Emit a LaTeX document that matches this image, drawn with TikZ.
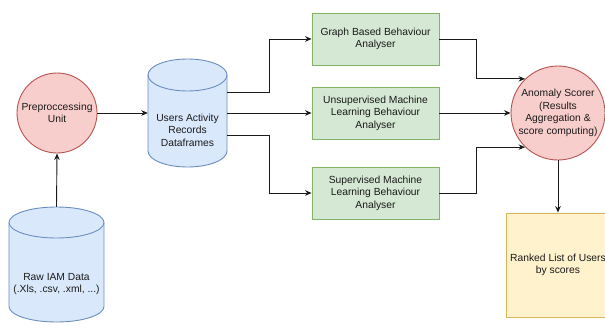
\documentclass[tikz,border=0pt]{standalone}
\usepackage{fontspec}
\setmainfont{Liberation Sans}
\usetikzlibrary{arrows.meta}

\definecolor{redfill}{HTML}{F8CECC}
\definecolor{redline}{HTML}{B85450}
\definecolor{bluefill}{HTML}{DAE8FC}
\definecolor{blueline}{HTML}{6C8EBF}
\definecolor{greenfill}{HTML}{D5E8D4}
\definecolor{greenline}{HTML}{82B366}
\definecolor{yellowfill}{HTML}{FFF2CC}
\definecolor{yellowline}{HTML}{D6B656}
\definecolor{ink}{HTML}{1A1A1A}

% cylinder: centre x, top y, bottom y, x radius, y radius
\newcommand\drawcylinder[5]{%
  \draw[cylbody] ({#1-#4},{#2-#5}) -- ({#1-#4},{#3+#5})
    arc[start angle=180,end angle=360,x radius=#4,y radius=#5]
    -- ({#1+#4},{#2-#5})
    arc[start angle=0,end angle=180,x radius=#4,y radius=#5] -- cycle;
  \draw[cylbody,fill=none] ({#1-#4},{#2-#5})
    arc[start angle=180,end angle=360,x radius=#4,y radius=#5];}

\tikzset{
  every node/.style={font=\fontsize{10.3}{12.6}\selectfont, text=ink, align=center, inner sep=0pt},
  cylbody/.style={draw=blueline, fill=bluefill, line width=0.9pt},
  anchorbox/.style={rectangle, draw=none},
  procircle/.style={circle, draw=redline, fill=redfill, line width=0.9pt},
  analyser/.style={rectangle, draw=greenline, fill=greenfill, line width=0.9pt,
    minimum width=127pt, minimum height=52pt},
  resultbox/.style={rectangle, draw=yellowline, fill=yellowfill, line width=0.9pt,
    minimum width=104pt, minimum height=104pt},
  flow/.style={draw=ink, line width=0.9pt, -{Stealth[length=6.5pt,width=5.5pt]}},
}

\begin{document}
\begin{tikzpicture}[x=1pt,y=1pt]
  \useasboundingbox (0,0) rectangle (605,-324);
  \clip (0,0) rectangle (605,-324);

  % data stores
  \drawcylinder{56.5}{-207}{-322}{47.5}{15.5}
  \drawcylinder{187.5}{-59}{-167}{39.5}{16}
  \node[anchorbox, minimum width=95pt, minimum height=115pt] (raw) at (56.5,-264.5) {};
  \node (rawlbl) at (56.5,-284) {Raw IAM Data\\(.Xls, .csv, .xml, ...)};
  \node[anchorbox, minimum width=79pt, minimum height=108pt] (users) at (187.5,-113) {};
  \node (userslbl) at (187.5,-130) {Users Activity\\Records\\Dataframes};

  % processing units
  \node[procircle, minimum size=80pt] (pre) at (57,-113) {Preproccessing\\Unit};
  \node[procircle, minimum size=94pt] (anom) at (558,-113)
    {Anomaly Scorer\\(Results\\Aggregation \&\\score computing)};

  % analysers
  \node[analyser] (graph) at (375.5,-39) {Graph Based Behaviour\\Analyser};
  \node[analyser] (unsup) at (375.5,-113) {Unsupervised Machine\\Learning Behaviour\\Analyser};
  \node[analyser] (sup) at (375.5,-193) {Supervised Machine\\Learning Behaviour\\Analyser};

  % output
  \node[resultbox] (ranked) at (558,-265) {Ranked List of Users\\by scores};

  % connectors
  \draw[flow] (raw.north) -- (pre.south);
  \draw[flow] (pre.east) -- (users.west);
  \draw[flow] ([yshift=21pt]users.east) -- ++(42,0) |- (graph.west);
  \draw[flow] (users.east) -- (unsup.west);
  \draw[flow] ([yshift=-22pt]users.east) -- ++(42,0) |- (sup.west);
  \draw[flow] (graph.east) -- ++(37,0) |- (anom.134);
  \draw[flow] (unsup.east) -- (anom.west);
  \draw[flow] (sup.east) -- ++(37,0) |- (anom.226);
  \draw[flow] (anom.south) -- (ranked.north);
\end{tikzpicture}
\end{document}
